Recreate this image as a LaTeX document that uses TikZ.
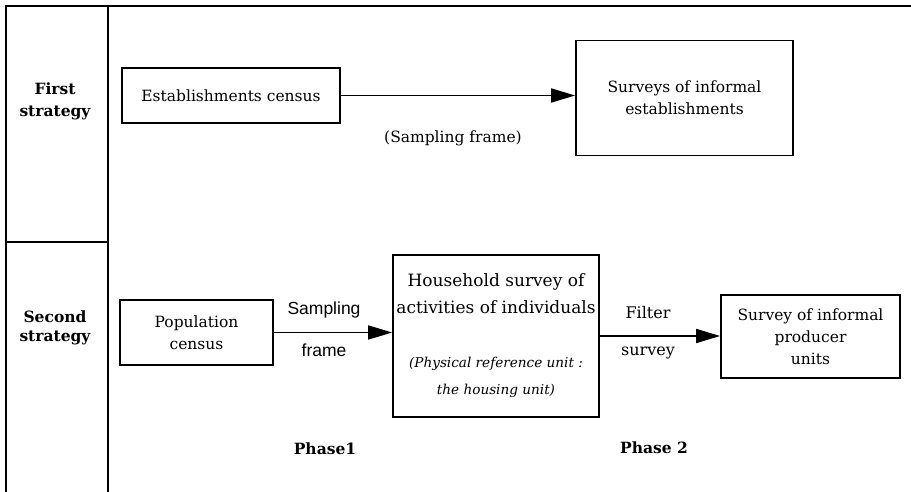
\documentclass[tikz,border=0pt]{standalone}
\usepackage{fontspec}
\setmainfont{DejaVu Serif}
\newfontfamily\labelsans{Liberation Sans}
\usetikzlibrary{arrows.meta}

\begin{document}
\begin{tikzpicture}[x=1pt, y=-1pt, font=\fontsize{15.5}{22}\selectfont,
		box/.style={draw, line width=1.7pt, inner sep=0pt, align=center},
		lbl/.style={inner sep=0pt, align=center},
		flow/.style={line width=1.7pt, -{Triangle[length=24pt, width=14pt]}}]
	\useasboundingbox (0,0) rectangle (911,492);
	\draw[line width=1.8pt] (911,6) -- (6,6) -- (6,492);
	\draw[line width=1.8pt] (108,6) -- (108,492);
	\draw[line width=1.8pt] (6,242) -- (108,242);

	\node[lbl, font=\fontsize{15.5}{22}\selectfont\bfseries] (first) at (55,101) {First\\strategy};
	\node[lbl, font=\fontsize{15.5}{19}\selectfont\bfseries] (second) at (55,328) {Second\\strategy};

	\node[box, minimum width=218, minimum height=55] (estcensus) at (231,95.5) {Establishments census};
	\node[box, minimum width=217, minimum height=115] (estsurvey) at (684.5,98) {Surveys of informal\\establishments};
	\node[lbl] (frame1) at (453,138) {(Sampling frame)};

	\node[box, minimum width=153, minimum height=65] (popcensus) at (196.5,332.5) {Population\\census};
	\node[box, minimum width=206, minimum height=162, font=\fontsize{17}{27}\selectfont] (hhsurvey) at (496,336)
		{Household survey of\\activities of individuals\\[27pt]
		{\fontsize{13.6}{27}\selectfont\itshape (Physical reference unit :}\\
		{\fontsize{13.6}{27}\selectfont\itshape the housing unit)}};
	\node[box, minimum width=179, minimum height=83] (prodsurvey) at (810.5,336.5) {Survey of informal\\producer\\units};

	\node[lbl, font=\labelsans\fontsize{17.5}{20}\selectfont] (sampling) at (324,310) {Sampling};
	\node[lbl, font=\labelsans\fontsize{17.5}{20}\selectfont] (frame2) at (324,350) {frame};
	\node[lbl, font=\fontsize{16}{22}\selectfont] (filter) at (648,313) {Filter};
	\node[lbl, font=\fontsize{16}{22}\selectfont] (filtersv) at (648,353) {survey};
	\node[lbl, font=\fontsize{15.5}{22}\selectfont\bfseries] (phase1) at (325,449) {Phase1};
	\node[lbl, font=\fontsize{15.5}{22}\selectfont\bfseries] (phase2) at (654,448) {Phase 2};

	\draw[flow] (estcensus.east) -- (estcensus.east -| estsurvey.west);
	\draw[flow] (popcensus.east) -- (popcensus.east -| hhsurvey.west);
	\draw[flow] (hhsurvey.east) -- (hhsurvey.east -| prodsurvey.west);
\end{tikzpicture}
\end{document}
